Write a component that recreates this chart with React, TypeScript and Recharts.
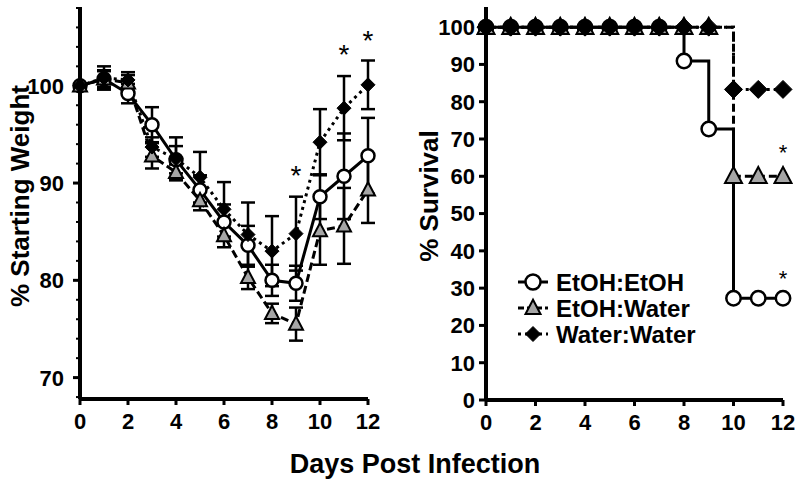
import React from 'react';
import { ComposedChart, Line, XAxis, YAxis, ErrorBar, ReferenceDot, Legend } from 'recharts';

const FONT = '"Liberation Sans", Arial, sans-serif';

// days post infection
const days = [0, 1, 2, 3, 4, 5, 6, 7, 8, 9, 10, 11, 12];
const dayTicks = [0, 2, 4, 6, 8, 10, 12];

// % starting weight (mean, SEM)
const wtEtohEtoh = [100, 100.7, 99.2, 96.0, 92.4, 89.3, 86.0, 83.6, 80.0, 79.7, 88.6, 90.7, 92.8];
const wtEtohEtohSem = [null, 0.9, 1.0, 1.8, 1.4, 1.5, 1.8, 2.0, 1.6, 1.8, 2.3, 4.4, 3.9];
const wtEtohWater = [100, 100.7, 100.3, 92.8, 91.1, 88.2, 84.6, 80.3, 76.6, 75.5, 85.1, 85.6, 89.3];
const wtEtohWaterSem = [null, 0.8, 0.8, 1.3, 0.8, 1.0, 1.2, 1.2, 1.0, 1.7, 3.5, 3.9, 3.4];
const wtWaterWater = [100, 100.8, 100.6, 93.7, 92.5, 90.6, 87.3, 84.7, 83.0, 84.8, 94.2, 97.7, 100.1];
const wtWaterWaterSem = [null, 1.2, 0.8, 1.0, 2.2, 2.6, 2.8, 3.3, 3.6, 3.8, 3.4, 3.3, 2.5];
const weightTicks = [68, 70, 72, 74, 76, 78, 80, 82, 84, 86, 88, 90, 92, 94, 96, 98, 100, 102, 104, 106, 108];

// % survival
const survEtohEtoh = [100, 100, 100, 100, 100, 100, 100, 100, 90.9, 72.7, 27.3, 27.3, 27.3];
const survEtohWater = [100, 100, 100, 100, 100, 100, 100, 100, 100, 100, 60, 60, 60];
const survWaterWater = [100, 100, 100, 100, 100, 100, 100, 100, 100, 100, 83.3, 83.3, 83.3];
const survivalTicks = [0, 10, 20, 30, 40, 50, 60, 70, 80, 90, 100];

// significance marks
const weightStarDays = [9, 11, 12];
const weightStarY = [91.5, 103.9, 105.4];
const survivalStarDays = [12, 12];
const survivalStarY = [67.8, 34.0];

const groupNames = ['EtOH:EtOH', 'EtOH:Water', 'Water:Water'];

const weightRows = days.map((day, i) => ({
  day,
  ee: wtEtohEtoh[i],
  eeErr: wtEtohEtohSem[i],
  ew: wtEtohWater[i],
  ewErr: wtEtohWaterSem[i],
  ww: wtWaterWater[i],
  wwErr: wtWaterWaterSem[i],
}));

const survivalRows = days.map((day, i) => ({
  day,
  ee: survEtohEtoh[i],
  ew: survEtohWater[i],
  ww: survWaterWater[i],
}));

type Kind = 'circle' | 'triangle' | 'diamond';

function Marker({ kind, cx, cy, s }: { kind: Kind; cx: number; cy: number; s: number }) {
  if (cx == null || cy == null) return null;
  if (kind === 'circle') {
    return <circle cx={cx} cy={cy} r={s} fill="#fff" stroke="#000" strokeWidth={2.5} />;
  }
  if (kind === 'triangle') {
    const pts = `${cx},${cy - s * 1.1} ${cx - s},${cy + s * 0.8} ${cx + s},${cy + s * 0.8}`;
    return <polygon points={pts} fill="#a6a6a6" stroke="#000" strokeWidth={2} strokeLinejoin="miter" />;
  }
  const pts = `${cx},${cy - s} ${cx + s},${cy} ${cx},${cy + s} ${cx - s},${cy}`;
  return <polygon points={pts} fill="#000" stroke="#000" strokeWidth={1} />;
}

const dotFor = (kind: Kind, s: number) => (p: any) =>
  <Marker key={`${kind}-${p.index}`} kind={kind} cx={p.cx} cy={p.cy} s={s} />;

const starShape = (fs: number) => (p: any) =>
  (
    <text x={p.cx} y={p.cy + fs * 0.58} textAnchor="middle" fontSize={fs} fontFamily={FONT} fill="#000">
      *
    </text>
  );

function WeightTick(props: any) {
  const { x, y, payload } = props;
  const v = payload.value;
  const major = v % 10 === 0;
  return (
    <g>
      <line x1={x} x2={x - (major ? 7 : 4)} y1={y} y2={y} stroke="#000" strokeWidth={major ? 3 : 2} />
      {major && v >= 70 && v <= 100 && (
        <text x={x - 16} y={y} dy="0.36em" textAnchor="end" fontSize={22} fontWeight={700} fontFamily={FONT} fill="#000">
          {v}
        </text>
      )}
    </g>
  );
}

const legendStyles = [
  { kind: 'circle' as Kind, dash: undefined },
  { kind: 'triangle' as Kind, dash: '6 3' },
  { kind: 'diamond' as Kind, dash: '3 4' },
];

function SurvivalLegend() {
  return (
    <svg width={260} height={84}>
      {groupNames.map((name, i) => {
        const y = 14 + i * 26;
        return (
          <g key={name}>
            <line x1={0} x2={30} y1={y} y2={y} stroke="#000" strokeWidth={3} strokeDasharray={legendStyles[i].dash} />
            <Marker kind={legendStyles[i].kind} cx={15} cy={y} s={7.5} />
            <text x={38} y={y} dy="0.36em" fontSize={24} fontWeight={700} fontFamily={FONT} fill="#000">
              {name}
            </text>
          </g>
        );
      })}
    </svg>
  );
}

const axisLine = { stroke: '#000', strokeWidth: 4 };
const tickLine = { stroke: '#000', strokeWidth: 3 };
const tickFont = { fill: '#000', fontSize: 22, fontWeight: 700, fontFamily: FONT };

export default function App() {
  return (
    <div style={{ position: 'absolute', left: 0, top: 0, width: 800, height: 484, background: '#fff' }}>
      <div style={{ position: 'absolute', left: 0, top: 0 }}>
        <ComposedChart width={400} height={484} data={weightRows} margin={{ top: 7, right: 32, bottom: 45, left: 0 }}>
          <XAxis
            dataKey="day"
            type="number"
            domain={[0, 12]}
            ticks={dayTicks}
            height={40}
            axisLine={axisLine}
            tickLine={tickLine}
            tickSize={6}
            tickMargin={8}
            tick={tickFont}
          />
          <YAxis
            type="number"
            domain={[67.8, 108.1]}
            allowDataOverflow
            ticks={weightTicks}
            width={80}
            axisLine={axisLine}
            tickLine={false}
            tickSize={0}
            tickMargin={0}
            tick={<WeightTick />}
            interval={0}
          />
          <Line dataKey="ee" name={groupNames[0]} stroke="#000" strokeWidth={3} dot={dotFor('circle', 6.5)} activeDot={false} isAnimationActive={false}>
            <ErrorBar dataKey="eeErr" direction="y" width={7} stroke="#000" strokeWidth={2.5} isAnimationActive={false} />
          </Line>
          <Line dataKey="ew" name={groupNames[1]} stroke="#000" strokeWidth={3} strokeDasharray="8 4" dot={dotFor('triangle', 7)} activeDot={false} isAnimationActive={false}>
            <ErrorBar dataKey="ewErr" direction="y" width={7} stroke="#000" strokeWidth={2.5} isAnimationActive={false} />
          </Line>
          <Line dataKey="ww" name={groupNames[2]} stroke="#000" strokeWidth={3} strokeDasharray="3 4" dot={dotFor('diamond', 7)} activeDot={false} isAnimationActive={false}>
            <ErrorBar dataKey="wwErr" direction="y" width={7} stroke="#000" strokeWidth={2.5} isAnimationActive={false} />
          </Line>
          {weightStarDays.map((d, i) => (
            <ReferenceDot key={`ws${i}`} x={d} y={weightStarY[i]} r={0} shape={starShape(28)} />
          ))}
        </ComposedChart>
      </div>
      <div style={{ position: 'absolute', left: 400, top: 0 }}>
        <ComposedChart width={400} height={484} data={survivalRows} margin={{ top: 7, right: 17, bottom: 44, left: 0 }}>
          <XAxis
            dataKey="day"
            type="number"
            domain={[0, 12]}
            ticks={dayTicks}
            height={40}
            axisLine={axisLine}
            tickLine={tickLine}
            tickSize={6}
            tickMargin={8}
            tick={tickFont}
          />
          <YAxis
            type="number"
            domain={[0, 105.4]}
            allowDataOverflow
            ticks={survivalTicks}
            width={86}
            axisLine={axisLine}
            tickLine={tickLine}
            tickSize={7}
            tickMargin={4}
            tick={tickFont}
            interval={0}
          />
          <Line type="stepAfter" dataKey="ee" name={groupNames[0]} stroke="#000" strokeWidth={3} dot={dotFor('circle', 7.2)} activeDot={false} isAnimationActive={false} />
          <Line type="stepAfter" dataKey="ew" name={groupNames[1]} stroke="#000" strokeWidth={3} strokeDasharray="8 4" dot={dotFor('triangle', 8.5)} activeDot={false} isAnimationActive={false} />
          <Line type="stepAfter" dataKey="ww" name={groupNames[2]} stroke="#000" strokeWidth={3} strokeDasharray="3 4" dot={dotFor('diamond', 9)} activeDot={false} isAnimationActive={false} />
          {survivalStarDays.map((d, i) => (
            <ReferenceDot key={`ss${i}`} x={d} y={survivalStarY[i]} r={0} shape={starShape(22)} />
          ))}
          <Legend
            layout="vertical"
            align="center"
            verticalAlign="middle"
            content={<SurvivalLegend />}
            wrapperStyle={{ left: 118, top: 268, width: 260, height: 84 }}
          />
        </ComposedChart>
      </div>
      <svg width={800} height={484} style={{ position: 'absolute', left: 0, top: 0, pointerEvents: 'none' }}>
        <text transform="translate(20,196) rotate(-90)" textAnchor="middle" dominantBaseline="central" fontSize={26} fontWeight={700} fontFamily={FONT} fill="#000">
          % Starting Weight
        </text>
        <text transform="translate(429,196) rotate(-90)" textAnchor="middle" dominantBaseline="central" fontSize={26} fontWeight={700} fontFamily={FONT} fill="#000">
          % Survival
        </text>
        <text x={415} y={473} textAnchor="middle" fontSize={27} fontWeight={700} fontFamily={FONT} fill="#000">
          Days Post Infection
        </text>
      </svg>
    </div>
  );
}
